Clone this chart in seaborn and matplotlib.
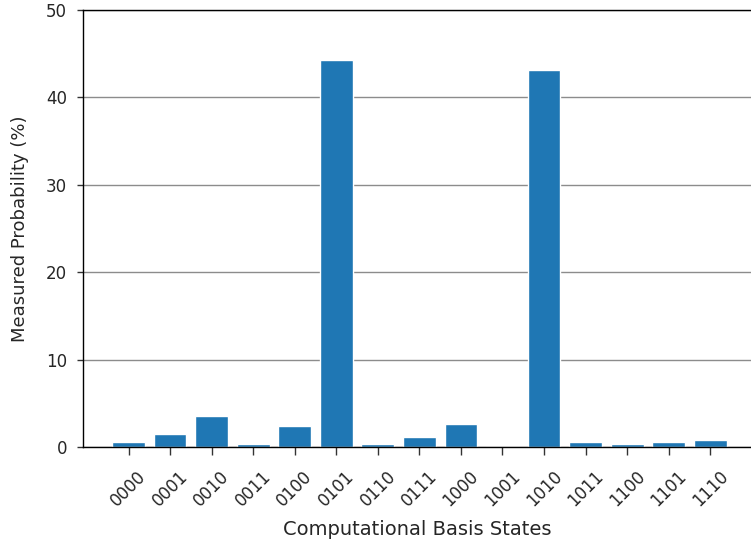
import matplotlib
matplotlib.use("Agg")
import matplotlib.pyplot as plt
import pandas as pd
import seaborn as sns

# measured probabilities per basis state (%)
states = ["0000", "0001", "0010", "0011", "0100", "0101", "0110", "0111",
          "1000", "1001", "1010", "1011", "1100", "1101", "1110"]
probabilities = [0.55, 1.5, 3.5, 0.3, 2.4, 44.3, 0.3, 1.2,
                 2.6, 0.0, 43.1, 0.55, 0.35, 0.55, 0.75]

df = pd.DataFrame({"state": states, "prob": probabilities})

sns.set_style("white")
plt.rcParams["font.family"] = ["DejaVu Sans"]

fig = plt.figure(figsize=(7.51, 5.47), dpi=100)
ax = fig.add_axes([83 / 751, 1 - 447 / 547, 1 - 83 / 751, (447 - 10) / 547])

sns.barplot(data=df, x="state", y="prob", color="#1f77b4", saturation=1,
            width=0.79, ax=ax)

ax.set_ylim(0, 50)
ax.set_xlim(-1.095, 14.98)
ax.set_yticks([0, 10, 20, 30, 40, 50])
ax.yaxis.grid(True, color="#8c8c8c", linewidth=1)
ax.set_axisbelow(True)

for side in ["left", "top", "bottom"]:
    ax.spines[side].set_color("black")
    ax.spines[side].set_linewidth(1)
ax.spines["right"].set_visible(False)

ax.tick_params(axis="both", which="major", width=1, color="#333333",
               labelsize=12, bottom=True, left=True, labelcolor="#262626")
ax.tick_params(axis="x", labelrotation=45, length=6, pad=8.5)
ax.tick_params(axis="y", length=4, pad=7.5)

ax.set_xlabel("Computational Basis States", fontsize=14, color="#262626",
              labelpad=7)
ax.set_ylabel("Measured Probability (%)", fontsize=13, color="#262626",
              labelpad=12)

fig.savefig("out.png", dpi=100)
